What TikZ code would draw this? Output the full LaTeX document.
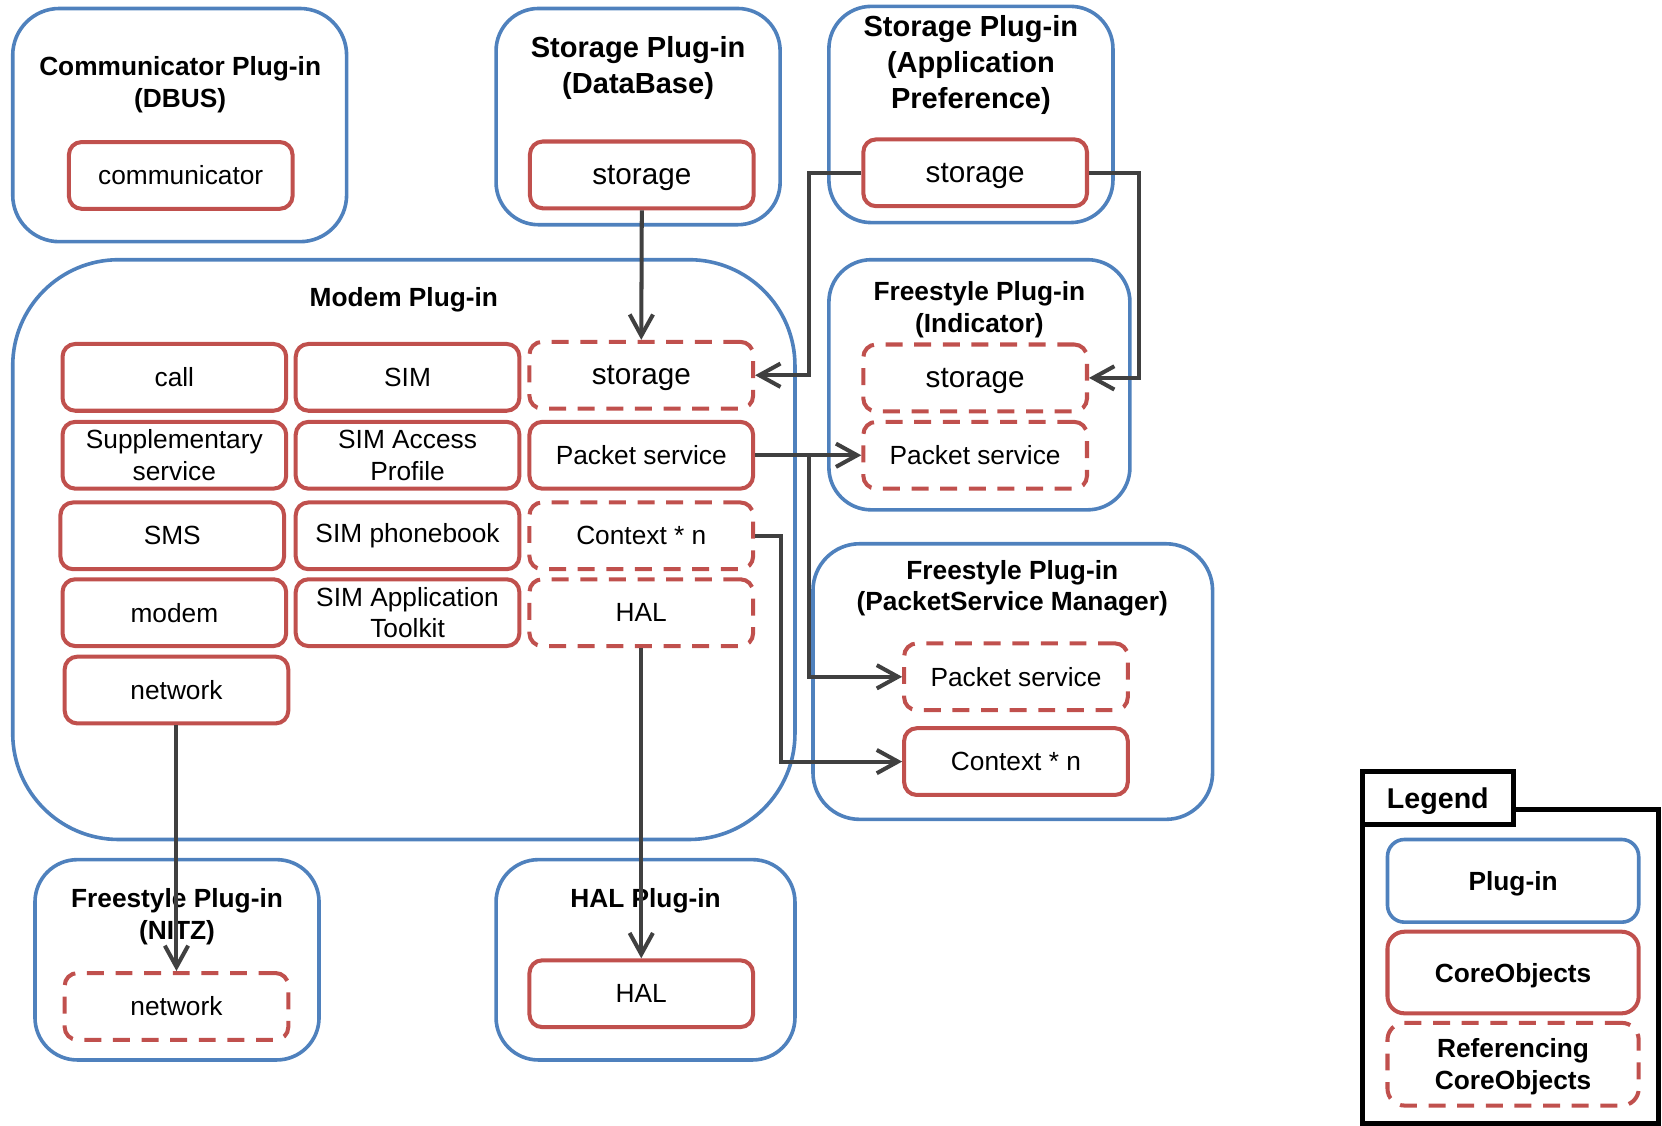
\documentclass[tikz,border=0pt]{standalone}
\usepackage{fontspec}
\setmainfont{Liberation Sans}
\usetikzlibrary{arrows.meta}

\definecolor{plugblue}{HTML}{4F81BD}
\definecolor{corered}{HTML}{C0504D}
\definecolor{linkgray}{HTML}{404040}

\begin{document}
\begin{tikzpicture}[
	x=0.5pt, y=-0.5pt,
	plugin/.style={
		rectangle,
		rounded corners=20pt,
		draw=plugblue,
		line width=1.7pt
	},
	core/.style={
		rectangle,
		rounded corners=6pt,
		draw=corered,
		line width=1.9pt,
		minimum width=105.5pt,
		minimum height=31.5pt,
		align=center,
		font=\fontsize{12.4}{15}\selectfont
	},
	refcore/.style={core, dash pattern=on 8pt off 5.5pt},
	bigtext/.style={font=\fontsize{14}{17}\selectfont, text depth=0pt},
	title/.style={align=center, font=\fontsize{12.4}{15}\selectfont\bfseries},
	bigtitle/.style={align=center, font=\fontsize{13.7}{17}\selectfont\bfseries},
	link/.style={draw=linkgray, line width=1.9pt, -{Straight Barb[length=10pt,width=11pt]}},
	legendframe/.style={draw=black, line width=2.4pt}
]
\useasboundingbox (0,0) rectangle (1568,1062);

% Plug-in boxes
\node[plugin, rounded corners=22pt, minimum width=157.5pt, minimum height=110pt] (commplug) at (169.5,118) {};
\node[plugin, minimum width=134pt, minimum height=102pt] (stdbplug) at (602,110) {};
\node[plugin, minimum width=134pt, minimum height=102pt] (stapplug) at (916,108) {};
\node[plugin, rounded corners=50pt, minimum width=369pt, minimum height=273.5pt] (modemplug) at (381,518.5) {};
\node[plugin, minimum width=142pt, minimum height=118pt] (indplug) at (924,363) {};
\node[plugin, rounded corners=22pt, minimum width=188.5pt, minimum height=130pt] (psmplug) at (955.5,643) {};
\node[plugin, minimum width=134pt, minimum height=94.5pt] (nitzplug) at (167,905.5) {};
\node[plugin, minimum width=141pt, minimum height=94.5pt] (halplug) at (609,905.5) {};

% Titles
\node[title] (commtitle) at (170,80) {Communicator Plug-in\\(DBUS)};
\node[bigtitle] (stdbtitle) at (602,64) {Storage Plug-in\\(DataBase)};
\node[bigtitle] (staptitle) at (916,61.5) {Storage Plug-in\\(Application\\Preference)};
\node[title] (modemtitle) at (381,283) {Modem Plug-in};
\node[title] (indtitle) at (924,292) {Freestyle Plug-in\\(Indicator)};
\node[title] (psmtitle) at (955,555) {Freestyle Plug-in\\(PacketService Manager)};
\node[title] (nitztitle) at (167,865) {Freestyle Plug-in\\(NITZ)};
\node[title] (haltitle) at (609,850) {HAL Plug-in};

% CoreObjects
\node[core] (commcore) at (170.5,165.5) {communicator};
\node[core, bigtext] (stdbcore) at (605.5,165) {storage};
\node[core, bigtext] (stapcore) at (920,163) {storage};

\node[core] (callcore) at (164.5,356) {call};
\node[core] (simcore) at (384.5,356) {SIM};
\node[refcore, bigtext] (stmodem) at (605,354) {storage};
\node[core] (suppcore) at (164.5,429.5) {Supplementary\\service};
\node[core] (sapcore) at (384.5,429.5) {SIM Access\\Profile};
\node[core] (pktmodem) at (605,429.5) {Packet service};
\node[core] (smscore) at (162.5,505.5) {SMS};
\node[core] (pbcore) at (384.5,505.5) {SIM phonebook};
\node[refcore] (ctxmodem) at (605,505.5) {Context * n};
\node[core] (modemcore) at (164.5,578) {modem};
\node[core] (satcore) at (384.5,578) {SIM Application\\Toolkit};
\node[refcore] (halmodem) at (605,578) {HAL};
\node[core] (netcore) at (166.5,651) {network};

\node[refcore, bigtext] (stind) at (920,356.5) {storage};
\node[refcore] (pktind) at (920,429.5) {Packet service};
\node[refcore] (pktpsm) at (958.5,638.5) {Packet service};
\node[core] (ctxpsm) at (958.5,718.5) {Context * n};
\node[refcore] (netnitz) at (166.5,949.5) {network};
\node[core] (halcore) at (605,937.5) {HAL};

% Connectors
\coordinate (bus1) at (763,0);
\coordinate (bus2) at (1075,0);
\coordinate (bus3) at (737,0);
\draw[link] (stdbcore.south) -- (stmodem.north);
\draw[link] (stapcore.west) -- (stapcore.west -| bus1) |- (stmodem.east);
\draw[link] (stapcore.east) -- (stapcore.east -| bus2) |- (stind.east);
\draw[link] (pktmodem.east) -- (pktind.west);
\draw[link] (pktmodem.east -| bus1) |- (pktpsm.west);
\draw[link] (ctxmodem.east) -- (ctxmodem.east -| bus3) |- (ctxpsm.west);
\draw[link] (halmodem.south) -- (halcore.north);
\draw[link] (netcore.south) -- (netnitz.north);

% Legend
\draw[legendframe] (1285,764) rectangle (1565,1060);
\node[draw=black, line width=2.4pt, fill=white, minimum width=71.5pt, minimum height=25pt, text depth=0pt,
	font=\fontsize{13.5}{16}\selectfont\bfseries] (legtab) at (1356.5,753) {Legend};
\node[plugin, rounded corners=8pt, minimum width=118.5pt, minimum height=39pt, title, text depth=0pt] (legplug) at (1427.5,831) {Plug-in};
\node[core, rounded corners=8pt, minimum width=118.5pt, minimum height=38.5pt, title, text depth=0pt] (legcore) at (1427.5,917.5) {CoreObjects};
\node[refcore, rounded corners=8pt, minimum width=118.5pt, minimum height=39pt, title, text depth=0pt] (legref) at (1427.5,1004) {Referencing\\CoreObjects};

\end{tikzpicture}
\end{document}
